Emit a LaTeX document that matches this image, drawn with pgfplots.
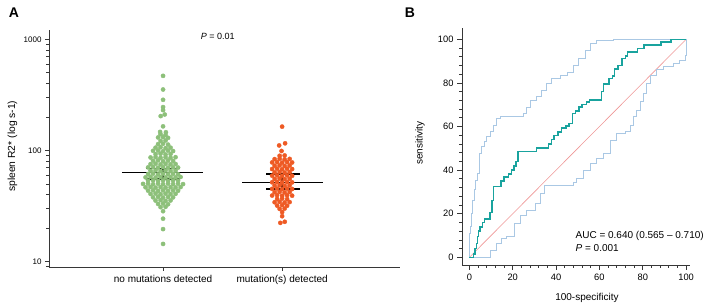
\documentclass[border=0pt]{standalone}
\usepackage{fontspec}
\setmainfont{Liberation Sans}
\usepackage{pgfplots}
\pgfplotsset{compat=1.18}
\definecolor{ptgreen}{RGB}{141,192,122}
\definecolor{ptorange}{RGB}{238,90,36}
\definecolor{roc}{RGB}{25,163,158}
\definecolor{ci}{RGB}{170,200,228}
\definecolor{diag}{RGB}{238,150,150}
\definecolor{axgray}{RGB}{55,55,55}
\pgfplotsset{
  common/.style={
    scale only axis,
    axis x line*=bottom, axis y line*=left,
    axis line style={-, axgray, line width=0.9pt},
    tick style={axgray, line width=0.8pt},
    tick align=outside,
    major tick length=4pt, minor tick length=2.5pt,
    /pgf/number format/assume math mode=true,
    label style={font=\fontsize{10}{12}\selectfont},
    clip=false,
  }
}
\begin{document}
\begin{tikzpicture}
\useasboundingbox (0pt,0pt) rectangle (709pt,307pt);
\node[font=\bfseries\fontsize{14}{16}\selectfont] at (14pt,294pt) {A};
\node[font=\bfseries\fontsize{14}{16}\selectfont] at (410pt,294pt) {B};
% ---------------- Panel A ----------------
\begin{axis}[common,
  at={(49pt,40pt)}, anchor=south west, width=351pt, height=237pt,
  xmin=0.042, xmax=2.99, ymode=log, ymin=8.93, ymax=1216,
  xtick={1,2}, xticklabels={no mutations detected, mutation(s) detected},
  x tick label style={font=\fontsize{10}{12}\selectfont, yshift=-1pt},
  ytick={10,100,1000}, yticklabels={10,100,1000},
  minor ytick={9,20,30,40,50,60,70,80,90,200,300,400,500,600,700,800,900},
  y tick label style={font=\fontsize{8}{10}\selectfont},
  ylabel={spleen R2* (log s-1)},
  ylabel style={at={(rel axis cs:-0.104,0.51)}, anchor=center, rotate=0, font=\fontsize{10.3}{12}\selectfont},
]
\addplot[only marks, color=ptgreen, mark=*, mark size=2.1pt] coordinates {
(1,470) (1,354) (1,286) (1,246) (1,231) (1.014,211) (0.980,204) (1,165) (0.975,147) (1.024,146)
(0.979,140) (1.021,138)
(0.958,131) (1,132) (1.042,130)
(0.979,122) (1.021,123)
(0.958,114) (1,115) (1.042,113)
(0.937,106) (0.979,107) (1.021,105) (1.063,106)
(0.916,99.3) (0.958,100) (1,98.5) (1.042,99.8) (1.084,98.8)
(0.937,92.7) (0.979,93.5) (1.021,92) (1.063,93)
(0.895,86.5) (0.937,87.2) (0.979,86) (1.021,86.8) (1.063,86.1) (1.105,87)
(0.916,80.8) (0.958,81.5) (1,80.2) (1.042,81.2) (1.084,80.5)
(0.895,75.4) (0.937,76) (0.979,75) (1.021,75.8) (1.063,75.1) (1.105,75.6)
(0.874,70.4) (0.916,71) (0.958,70) (1,70.8) (1.042,70.1) (1.084,70.6) (1.126,70.2)
(0.895,65.7) (0.937,66.2) (0.979,65.3) (1.021,66) (1.063,65.5) (1.105,65.9)
(0.874,61.4) (0.916,61.9) (0.958,61) (1,61.7) (1.042,61.2) (1.084,61.6) (1.126,61.1)
(0.853,57.3) (0.895,57.8) (0.937,57) (0.979,57.6) (1.021,57.1) (1.063,57.5) (1.105,57.2) (1.147,57.7)
(0.874,53.5) (0.916,53.9) (0.958,53.2) (1,53.8) (1.042,53.3) (1.084,53.7) (1.126,53.4)
(0.832,50) (0.874,50.3) (0.916,49.7) (0.958,50.2) (1,49.8) (1.042,50.3) (1.084,49.9) (1.126,50.2) (1.168,49.8)
(0.853,46.6) (0.895,46.9) (0.937,46.3) (0.979,46.8) (1.021,46.4) (1.063,46.7) (1.105,46.5) (1.147,46.8)
(0.874,43.5) (0.916,43.8) (0.958,43.2) (1,43.7) (1.042,43.3) (1.084,43.6) (1.126,43.4)
(0.895,40.6) (0.937,40.9) (0.979,40.4) (1.021,40.8) (1.063,40.5) (1.105,40.7)
(0.916,37.9) (0.958,38.2) (1,37.7) (1.042,38.1) (1.084,37.8)
(0.937,35.4) (0.979,35.7) (1.021,35.2) (1.063,35.5)
(0.958,33) (1,33.3) (1.042,32.8)
(0.979,30.9) (1.021,31.1)
(1,28.4) (1,24.3) (1,19.6) (1,14.4)
};
\addplot[only marks, color=ptorange, mark=*, mark size=2.1pt] coordinates {
(2,164) (2.025,116) (1.975,111) (1.995,99)
(1.979,89.6) (2.021,90.2)
(1.937,83.6) (1.979,84.2) (2.021,83.2) (2.063,84)
(1.916,78.1) (1.958,78.6) (2,77.8) (2.042,78.5) (2.084,78)
(1.937,72.9) (1.979,73.4) (2.021,72.6) (2.063,73.2)
(1.916,68.1) (1.958,68.6) (2,67.8) (2.042,68.5) (2.084,68)
(1.937,63.6) (1.979,64) (2.021,63.3) (2.063,63.9)
(1.916,59.3) (1.958,59.7) (2,59.1) (2.042,59.6) (2.084,59.2)
(1.937,55.4) (1.979,55.8) (2.021,55.2) (2.063,55.6)
(1.916,51.7) (1.958,52) (2,51.5) (2.042,51.9) (2.084,51.6)
(1.937,48.3) (1.979,48.6) (2.021,48.1) (2.063,48.5)
(1.916,45.1) (1.958,45.4) (2,44.9) (2.042,45.3) (2.084,45)
(1.937,42.1) (1.979,42.4) (2.021,41.9) (2.063,42.3)
(1.916,39.3) (1.958,39.6) (2,39.1) (2.042,39.5) (2.084,39.2)
(1.958,36.6) (2,36.9) (2.042,36.5)
(1.937,34.2) (1.979,34.5) (2.021,34) (2.063,34.3)
(1.958,31.9) (2,32.2) (2.042,31.8)
(1.979,29.8) (2.021,30)
(2,27.9)
(2,25.6) (2.022,22.8) (1.985,22.3)
};
% medians and 95% CI
\addplot[black, line width=1.7pt, mark=none] coordinates {(0.655,63.5) (1.336,63.5)};
\addplot[black, line width=1.7pt, mark=none] coordinates {(0.857,69) (1.143,69)};
\addplot[black, line width=1.7pt, mark=none] coordinates {(0.857,55) (1.143,55)};
\addplot[black, line width=1.7pt, mark=none] coordinates {(1,55) (1,69)};
\addplot[black, line width=1.7pt, mark=none] coordinates {(1.664,51.6) (2.345,51.6)};
\addplot[black, line width=1.7pt, mark=none] coordinates {(1.866,61.7) (2.151,61.7)};
\addplot[black, line width=1.7pt, mark=none] coordinates {(1.866,44.7) (2.151,44.7)};
\addplot[black, line width=1.7pt, mark=none] coordinates {(2,44.7) (2,61.7)};
\node[font=\fontsize{9}{11}\selectfont] at (rel axis cs:0.481,0.975) {\textit{P} = 0.01};
\end{axis}
% ---------------- Panel B ----------------
\begin{axis}[common,
  at={(462pt,42pt)}, anchor=south west, width=228pt, height=237pt,
  xmin=-3.4, xmax=101.8, ymin=-3.5, ymax=105.2,
  xtick={0,20,...,100}, ytick={0,20,...,100}, minor tick num=4,
  major tick length=5pt, minor tick length=3pt,
  tick label style={font=\fontsize{9.3}{11}\selectfont},
  xlabel={100-specificity}, ylabel={sensitivity},
  xlabel style={at={(rel axis cs:0.548,-0.139)}, anchor=center},
  ylabel style={at={(rel axis cs:-0.184,0.515)}, anchor=center},
]
\addplot[diag, line width=0.6pt, mark=none] coordinates {(0,0) (100,100)};
\addplot[ci, line width=0.8pt, mark=none, const plot] coordinates {
(0,0) (0,11) (0.6,14) (1,20) (1.5,26) (2.2,31) (3,35.5) (3.7,38.5) (4.6,47.7) (5.7,50.8)
(6.8,53) (8,55.4) (9.5,57.6) (11,60.7) (12.6,63.8) (14.2,64.5) (25,66) (26.5,69) (28,72)
(31,73.7) (33.4,76.8) (35.7,79.8) (38,82) (41.8,83.6) (45,85) (48,88.2) (50.3,91.3)
(53.4,95) (55.7,98) (58.8,99.4) (66.5,100) (100,100)
};
\addplot[ci, line width=0.8pt, mark=none, const plot] coordinates {
(0,0) (9.5,3.4) (12.6,6.4) (15,8.7) (17,9.5) (21,15.6) (23.4,19.4) (26.5,21.7) (30.3,24.8)
(32.6,29.4) (34.5,33.2) (48,34.5) (49.5,36.2) (52.6,40) (55.7,43) (58.8,45.4) (61.8,47.7)
(64.9,53.8) (68,56.9) (71.8,57.6) (74.2,60.7) (75.7,64.5) (77.2,67.6) (78.8,71.4) (80.3,75.2)
(81.8,79.8) (83.4,83.6) (86.5,86) (89.5,87.5) (94,89) (97,90.5) (99.5,92.8) (100,100)
};
\addplot[roc, line width=1.5pt, mark=none, const plot] coordinates {
(0,0) (1.8,1.5) (2.6,4.1) (3.4,6.4) (3.7,9.5) (4.3,12) (5,14) (6,16) (7,17.7) (9.5,20.5)
(10.5,26) (11.2,32.4) (14.5,35) (16,36.8) (18,38.3) (19.5,40) (20.5,41.8) (21.5,44) (22.5,48.5)
(31,50.2) (36.5,52) (38,54) (39,56) (41,57.6) (42.5,59.3) (44.5,60.3) (46,61.5) (47.5,66)
(49,67.2) (50.5,69) (52,70.2) (54,71.3) (55.5,72.2) (61,76) (62,79.5) (64.5,82) (66,83.2)
(67,86.5) (68.5,88) (70.5,91.3) (72,92.3) (73,94.3) (77.5,95.8) (80.5,97.4) (88.5,98.7)
(93,100) (100,100)
};
\node[font=\fontsize{10}{12}\selectfont, anchor=west] at (axis cs:47.4,9.8) {AUC = 0.640 (0.565 – 0.710)};
\node[font=\fontsize{10}{12}\selectfont, anchor=west] at (axis cs:47.4,4.3) {\textit{P} = 0.001};
\end{axis}
\end{tikzpicture}
\end{document}
